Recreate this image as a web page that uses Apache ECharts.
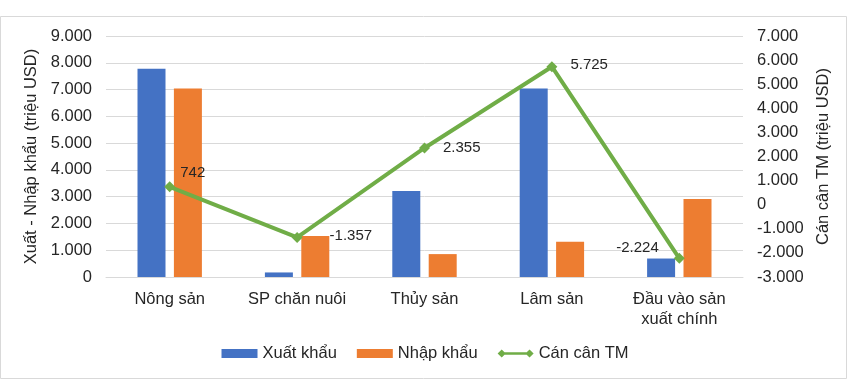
<!DOCTYPE html>
<html><head><meta charset="utf-8">
<script src="https://cdn.jsdelivr.net/npm/echarts@6/dist/echarts.min.js"></script>
<style>html,body{margin:0;padding:0;background:#fff}#c{width:850px;height:381px}</style>
</head><body><div id="c"></div>
<script>
const categories = ['Nông sản', 'SP chăn nuôi', 'Thủy sản', 'Lâm sản', 'Đầu vào sản\nxuất chính'];
const exportVals = [7780, 170, 3210, 7040, 690];
const importVals = [7038, 1527, 855, 1315, 2914];
const balanceVals = [742, -1357, 2355, 5725, -2224];
const seriesNames = ['Xuất khẩu', 'Nhập khẩu', 'Cán cân TM'];
const leftAxisName = 'Xuất - Nhập khẩu (triệu USD)';
const rightAxisName = 'Cán cân TM (triệu USD)';

const fmt = v => {
  const s = Math.abs(v).toString().replace(/\B(?=(\d{3})+(?!\d))/g, '.');
  return (v < 0 ? '-' : '') + s;
};
const font = 'Liberation Sans, Arial, sans-serif';
const chart = echarts.init(document.getElementById('c'));
const labelPos = [[0, -14], [22, -2], [8, 0], [8, -2], [-10, -10]];
const lineLegendIcon = 'path://M0,5 L5,0 L10,5 L5,10 Z M5,3.5 L39,3.5 L39,6.5 L5,6.5 Z M34,5 L39,0 L44,5 L39,10 Z';
chart.setOption({
  animation: false,
  textStyle: { fontFamily: font },
  graphic: [{ type: 'rect', shape: { x: 0.5, y: 16.5, width: 846, height: 362 }, style: { fill: 'none', stroke: '#d9d9d9', lineWidth: 1 }, silent: true }],
  grid: { left: 106, right: 107, top: 36, bottom: 104, containLabel: false },
  legend: {
    bottom: 14, left: 'center', itemGap: 20, itemWidth: 36, itemHeight: 9,
    textStyle: { fontSize: 16.5, color: '#262626', fontFamily: font },
    data: [
      { name: seriesNames[0], icon: 'rect' },
      { name: seriesNames[1], icon: 'rect' },
      { name: seriesNames[2], icon: lineLegendIcon, itemStyle: { color: '#70AD47', borderWidth: 0 } }
    ]
  },
  xAxis: {
    type: 'category', data: categories,
    axisLine: { lineStyle: { color: '#d9d9d9' } }, axisTick: { show: false },
    axisLabel: { fontSize: 16.5, color: '#262626', margin: 12, lineHeight: 20, interval: 0 }
  },
  yAxis: [{
    type: 'value', min: 0, max: 9000, interval: 1000,
    name: leftAxisName, nameLocation: 'middle', nameGap: 62, nameRotate: 90,
    nameTextStyle: { fontSize: 16.5, color: '#262626' },
    axisLabel: { fontSize: 16.5, color: '#262626', formatter: fmt, margin: 14 },
    splitLine: { lineStyle: { color: '#d9d9d9' } }
  }, {
    type: 'value', min: -3000, max: 7000, interval: 1000,
    name: rightAxisName, nameLocation: 'middle', nameGap: 71, nameRotate: 90,
    nameTextStyle: { fontSize: 16.5, color: '#262626', verticalAlign: 'bottom' },
    axisLabel: { fontSize: 16.5, color: '#262626', formatter: fmt, margin: 14, align: 'left' },
    splitLine: { show: false }
  }],
  series: [{
    name: seriesNames[0], type: 'bar', data: exportVals, barWidth: 28, barGap: '30%',
    itemStyle: { color: '#4472C4' }
  }, {
    name: seriesNames[1], type: 'bar', data: importVals, barWidth: 28,
    itemStyle: { color: '#ED7D31' }
  }, {
    name: seriesNames[2], type: 'line', yAxisIndex: 1, data: balanceVals.map((v, i) => ({
      value: v,
      label: { show: true, position: i === 4 ? 'left' : 'right', offset: labelPos[i], formatter: p => fmt(p.value), fontSize: 15, color: '#262626' }
    })),
    symbol: 'diamond', symbolSize: 11,
    lineStyle: { color: '#70AD47', width: 4 },
    itemStyle: { color: '#70AD47' }, z: 5
  }]
});
</script></body></html>
